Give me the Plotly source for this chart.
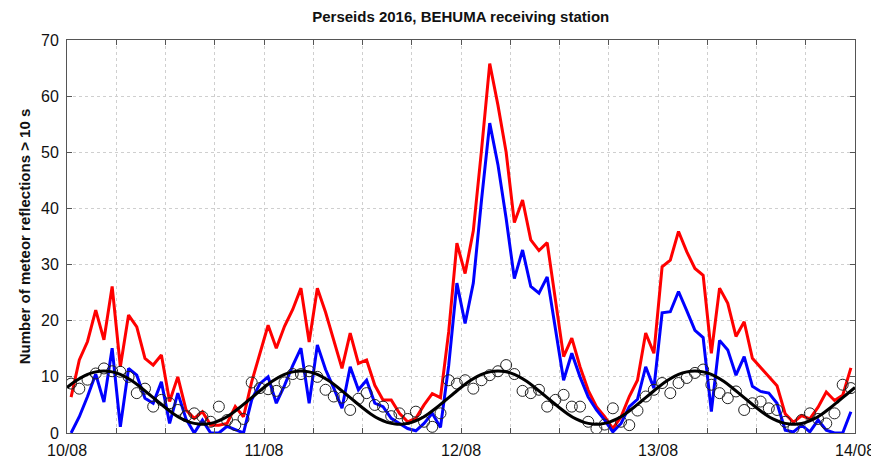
import plotly.graph_objects as go

# hourly samples (hour index from 10/08 00h, plotted at half hours)
hours = [i + 0.5 for i in range(96)]

red = [6.4, 13.0, 16.3, 21.9, 16.6, 26.1, 11.8, 21.0, 18.9, 13.3, 12.1, 13.9,
       5.6, 10.0, 4.1, 2.6, 3.8, 1.4, 1.4, 1.7, 4.7, 2.9, 9.1, 14.2,
       19.2, 15.1, 19.0, 22.0, 25.8, 16.2, 25.8, 21.5, 16.5, 11.5, 17.8, 12.4,
       13.0, 8.5, 5.9, 5.9, 3.5, 2.0, 2.6, 5.0, 7.0, 6.3, 18.0, 33.8,
       28.4, 36.0, 50.4, 65.8, 58.4, 50.0, 37.5, 41.5, 34.4, 32.5, 33.9, 24.0,
       13.6, 16.9, 11.8, 7.6, 4.7, 2.9, 0.8, 2.9, 6.5, 9.4, 17.8, 14.2,
       29.6, 30.8, 35.9, 32.3, 29.3, 28.1, 14.2, 25.8, 23.1, 17.2, 19.8, 13.3,
       11.6, 10.1, 8.4, 3.4, 1.9, 3.1, 2.5, 4.6, 7.3, 5.8, 6.7, 11.6]

blue = [0.0, 2.9, 6.5, 10.5, 5.5, 15.1, 1.1, 11.5, 10.3, 6.2, 5.3, 9.1,
        1.7, 7.1, 2.5, 0.0, 2.3, 0.0, 0.0, 1.2, 0.6, 0.0, 5.9, 8.8,
        10.0, 5.3, 8.5, 12.0, 15.1, 5.3, 15.7, 11.3, 8.0, 4.4, 11.8, 7.7,
        9.4, 5.3, 4.7, 2.6, 1.7, 0.8, 0.4, 1.7, 3.5, 1.0, 12.0, 26.7,
        19.5, 26.7, 41.5, 55.2, 47.8, 38.2, 27.5, 32.6, 26.1, 24.9, 27.8, 18.3,
        9.4, 14.2, 10.0, 6.4, 4.1, 2.3, 0.2, 1.7, 4.7, 6.0, 11.8, 8.0,
        21.4, 21.6, 25.2, 21.8, 18.3, 17.0, 3.8, 16.5, 14.8, 10.3, 13.6, 8.3,
        7.4, 7.1, 5.3, 0.5, 0.2, 1.4, 0.2, 2.3, 0.5, 0.0, 0.0, 3.8]

circles = [8.8, 7.9, 9.5, 10.6, 11.5, 11.0, 10.9, 10.0, 7.1, 7.9, 4.7, 5.9,
           5.3, 4.1, 3.0, 3.5, 2.9, 2.0, 4.7, 2.3, 1.4, 2.5, 9.0, 8.0,
           7.8, 7.5, 9.0, 10.5, 10.5, 11.0, 10.0, 7.7, 6.5, 6.3, 4.1, 6.1,
           7.1, 5.0, 4.7, 3.0, 3.5, 2.5, 3.8, 2.0, 1.1, 3.5, 9.4, 8.8,
           9.4, 7.9, 9.4, 10.3, 11.0, 12.1, 10.5, 7.5, 7.1, 7.7, 4.7, 5.9,
           6.8, 4.7, 4.7, 2.0, 0.8, 1.5, 4.4, 2.0, 1.4, 4.0, 6.5, 7.7,
           8.9, 7.1, 8.9, 9.8, 10.7, 11.3, 8.6, 7.1, 6.2, 7.4, 4.1, 5.3,
           5.6, 4.4, 4.1, 2.0, 0.8, 2.3, 3.5, 2.5, 1.7, 3.5, 8.6, 8.0]

fit_hours = list(range(97))
fit = [8.1, 9.2, 10.1, 10.7, 11.0, 11.0, 10.7, 10.1, 9.2, 8.1, 6.9, 5.7,
       4.5, 3.4, 2.5, 1.9, 1.6, 1.6, 1.9, 2.5, 3.4, 4.5, 5.7, 6.9,
       8.1, 9.2, 10.1, 10.7, 11.0, 11.0, 10.7, 10.1, 9.2, 8.1, 6.9, 5.7,
       4.5, 3.4, 2.5, 1.9, 1.6, 1.6, 1.9, 2.5, 3.4, 4.5, 5.7, 6.9,
       8.1, 9.2, 10.1, 10.7, 11.0, 11.0, 10.7, 10.1, 9.2, 8.1, 6.9, 5.7,
       4.5, 3.4, 2.5, 1.9, 1.6, 1.6, 1.9, 2.5, 3.4, 4.5, 5.7, 6.9,
       8.1, 9.2, 10.1, 10.7, 11.0, 11.0, 10.7, 10.1, 9.2, 8.1, 6.9, 5.7,
       4.5, 3.4, 2.5, 1.9, 1.6, 1.6, 1.9, 2.5, 3.4, 4.5, 5.7, 6.9, 8.1]

tick_vals = list(range(0, 97, 6))
day_labels = ["10/08", "11/08", "12/08", "13/08", "14/08"]
tick_text = [day_labels[v // 24] if v % 24 == 0 else "" for v in tick_vals]
y_ticks = [0, 10, 20, 30, 40, 50, 60, 70]

fig = go.Figure()
fig.add_trace(go.Scatter(x=hours, y=red, mode="lines",
                         line=dict(color="#ff0000", width=3)))
fig.add_trace(go.Scatter(x=hours, y=blue, mode="lines",
                         line=dict(color="#0000ff", width=3)))
fig.add_trace(go.Scatter(x=hours, y=circles, mode="markers",
                         marker=dict(symbol="circle-open", size=11,
                                     color="#222222", line=dict(width=1))))
fig.add_trace(go.Scatter(x=fit_hours, y=fit, mode="lines",
                         line=dict(color="#000000", width=3, shape="spline")))

axis_common = dict(showline=True, linecolor="#555555", linewidth=1,
                   mirror="ticks", ticks="inside", ticklen=5,
                   tickcolor="#555555", showgrid=True, gridcolor="#cfcfcf",
                   griddash="dot", gridwidth=1, zeroline=False,
                   automargin=False,
                   tickfont=dict(family="Liberation Sans, Arial", size=16,
                                 color="#111111"))

fig.update_layout(
    width=871, height=469,
    margin=dict(l=67, r=16, t=40, b=36),
    paper_bgcolor="white", plot_bgcolor="white",
    showlegend=False,
    title=dict(text="<b>Perseids 2016, BEHUMA receiving station</b>",
               x=0.529, xanchor="center", y=0.965, yanchor="middle",
               font=dict(family="Liberation Sans, Arial", size=15,
                         color="#111111")),
    xaxis=dict(range=[0, 96], tickvals=tick_vals, ticktext=tick_text,
               ticklabeloverflow="allow", ticklabelstandoff=3,
               **axis_common),
    yaxis=dict(range=[0, 70], tickvals=y_ticks, ticklabelstandoff=4,
               title=dict(text="<b>Number of meteor reflections &gt; 10 s</b>",
                          font=dict(family="Liberation Sans, Arial", size=15,
                                    color="#111111"),
                          standoff=6),
               **axis_common),
)

fig.write_html("out.html")
